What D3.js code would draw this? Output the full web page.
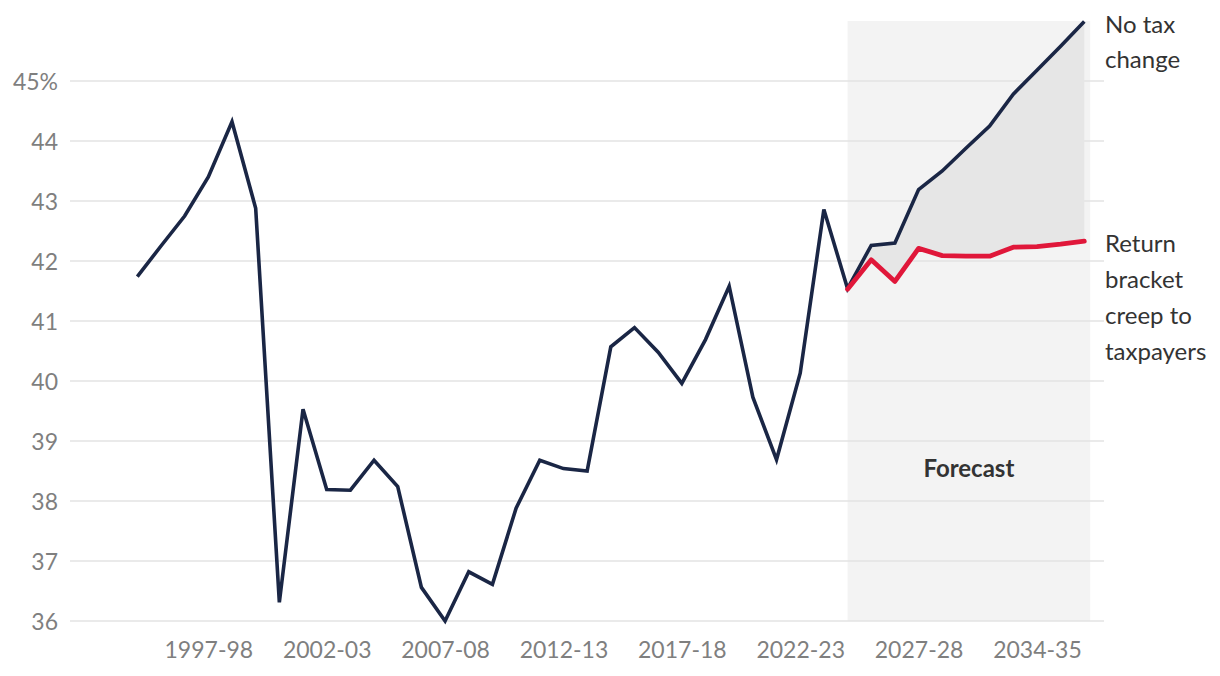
<!DOCTYPE html>
<html>
<head>
<meta charset="utf-8">
<script src="https://cdn.jsdelivr.net/npm/d3@7"></script>
<style>
  html, body { margin: 0; padding: 0; background: #fff; }
  svg { display: block; font-family: "Lato", "Open Sans", sans-serif; }
</style>
</head>
<body>
<svg id="chart" width="1220" height="676"></svg>
<script>
// ---- Data ----
const years = [
  "1994-95","1995-96","1996-97","1997-98","1998-99","1999-00","2000-01","2001-02","2002-03","2003-04",
  "2004-05","2005-06","2006-07","2007-08","2008-09","2009-10","2010-11","2011-12","2012-13","2013-14",
  "2014-15","2015-16","2016-17","2017-18","2018-19","2019-20","2020-21","2021-22","2022-23","2023-24",
  "2024-25","2025-26","2026-27","2027-28","2028-29","2029-30","2030-31","2031-32","2032-33","2033-34","2034-35"
];
// "No tax change" (history + projection)
const noTaxChange = [
  41.74, 42.25, 42.75, 43.40, 44.32, 42.88, 36.31, 39.53, 38.19, 38.18,
  38.68, 38.24, 36.56, 36.00, 36.82, 36.61, 37.88, 38.68, 38.54, 38.50,
  40.57, 40.89, 40.48, 39.96, 40.69, 41.58, 39.73, 38.69, 40.13, 42.86,
  41.54, 42.26, 42.30, 43.19, 43.50, 43.88, 44.25, 44.78, 45.18, 45.58, 45.99
];
// "Return bracket creep to taxpayers" (from 2024-25)
const forecastYears = years.slice(30);
const returnBracketCreep = [41.53, 42.02, 41.66, 42.21, 42.09, 42.08, 42.08, 42.23, 42.24, 42.28, 42.33];

const yTicks = [36, 37, 38, 39, 40, 41, 42, 43, 44, 45];
const xTickCategories = ["1997-98","2002-03","2007-08","2012-13","2017-18","2022-23","2027-28","2032-33"];
const xTickLabels     = ["1997-98","2002-03","2007-08","2012-13","2017-18","2022-23","2027-28","2034-35"];
const seriesLabels = [
  { name: "No tax change", lines: ["No tax", "change"] },
  { name: "Return bracket creep to taxpayers", lines: ["Return", "bracket", "creep to", "taxpayers"] }
];
const forecastLabel = "Forecast";

// ---- Layout ----
const svg = d3.select("#chart");
const gridLeft = 70, gridRight = 1104;
const x = d3.scalePoint().domain(years).range([137.3, 1084.3]);
const y = d3.scaleLinear().domain([36, 46]).range([621, 21]);
const step = x.step();

const navy = "#1a2645";
const red = "#e0173a";

// Forecast shading
svg.append("rect")
  .attr("x", x(forecastYears[0]))
  .attr("y", y(46))
  .attr("width", x(years[years.length - 1]) + 0.25 * step - x(forecastYears[0]))
  .attr("height", y(36) - y(46))
  .attr("fill", "#f3f3f3");

// Gridlines
svg.append("g").selectAll("line").data(yTicks).join("line")
  .attr("x1", gridLeft).attr("x2", gridRight)
  .attr("y1", d => y(d)).attr("y2", d => y(d))
  .attr("stroke", "#e3e3e3").attr("stroke-width", 1.5);

// Area between forecast lines
const fcData = forecastYears.map((yr, i) => ({ yr, hi: noTaxChange[30 + i], lo: returnBracketCreep[i] }));
svg.append("path")
  .datum(fcData)
  .attr("d", d3.area().x(d => x(d.yr)).y0(d => y(d.lo)).y1(d => y(d.hi)))
  .attr("fill", "#e6e6e6");

// Y axis labels
const yAxis = d3.axisLeft(y).tickValues(yTicks).tickSize(0).tickPadding(0)
  .tickFormat(d => d === 45 ? "45%" : String(d));
const gy = svg.append("g").attr("transform", "translate(58,0)").call(yAxis);
gy.select(".domain").remove();
gy.selectAll("text").attr("fill", "#7f7f7f").style("font-size", "23px")
  .style("font-family", "Lato, 'Open Sans', sans-serif").attr("dy", "0.35em");

// X axis labels
const xAxis = d3.axisBottom(x).tickValues(xTickCategories).tickSize(0).tickPadding(0)
  .tickFormat((d, i) => xTickLabels[i]);
const gx = svg.append("g").attr("transform", "translate(0,641)").call(xAxis);
gx.select(".domain").remove();
gx.selectAll("text").attr("fill", "#7f7f7f").style("font-size", "23px")
  .style("font-family", "Lato, 'Open Sans', sans-serif").attr("dy", "0.72em");

// Lines
const line = d3.line().x(d => x(d[0])).y(d => y(d[1]));
svg.append("path")
  .datum(years.map((yr, i) => [yr, noTaxChange[i]]))
  .attr("d", line).attr("fill", "none").attr("stroke", navy)
  .attr("stroke-width", 3.6).attr("stroke-linejoin", "miter");
svg.append("path")
  .datum(forecastYears.map((yr, i) => [yr, returnBracketCreep[i]]))
  .attr("d", line).attr("fill", "none").attr("stroke", red)
  .attr("stroke-width", 4.8).attr("stroke-linejoin", "round").attr("stroke-linecap", "round");

// Series labels
const lastYr = years[years.length - 1];
const labelX = 1105;
const lab1 = svg.append("text").attr("x", labelX).attr("y", y(noTaxChange[noTaxChange.length - 1]) + 11)
  .attr("fill", "#333").style("font-size", "24px");
seriesLabels[0].lines.forEach((t, i) => lab1.append("tspan").attr("x", labelX).attr("dy", i ? 35.5 : 0).text(t));
const lab2 = svg.append("text").attr("x", labelX).attr("y", y(returnBracketCreep[returnBracketCreep.length - 1]) + 11)
  .attr("fill", "#333").style("font-size", "24px");
seriesLabels[1].lines.forEach((t, i) => lab2.append("tspan").attr("x", labelX).attr("dy", i ? 35.8 : 0).text(t));

// Forecast label
svg.append("text")
  .attr("x", (x(forecastYears[0]) + x(lastYr) + 0.25 * step) / 2)
  .attr("y", y(38.4))
  .attr("text-anchor", "middle")
  .attr("fill", "#333").style("font-size", "24px").style("font-weight", "bold")
  .text(forecastLabel);
</script>
</body>
</html>
